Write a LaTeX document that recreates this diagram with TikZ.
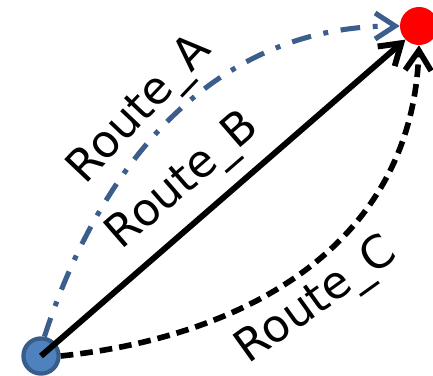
\documentclass[tikz,border=0pt]{standalone}
\usepackage{fontspec}
\setmainfont{DejaVu Sans}
\usetikzlibrary{arrows.meta}
\definecolor{routeblue}{RGB}{59,94,140}
\definecolor{stopblue}{RGB}{79,129,189}
\definecolor{stopedge}{RGB}{56,93,138}

\begin{document}
\begin{tikzpicture}[x=0.025cm, y=-0.025cm,
    every node/.style={font=\fontsize{32}{38}\selectfont, text=black, inner sep=2pt},
    stop/.style={circle, inner sep=0pt},
    route/.style={-{Straight Barb[length=5mm, width=6.5mm]}}
]
\useasboundingbox (0,0) rectangle (433,375);

\node[stop, minimum size=0.88cm, fill=stopblue, draw=stopedge, line width=3pt] (start) at (41,356) {};
\node[stop, minimum size=0.95cm, fill=red] (goal) at (419,26) {};

% three routes
\draw[route, routeblue, line width=3.6pt, dash pattern=on 14pt off 9pt on 3.5pt off 9pt]
    (start.80) to[out=72, in=180] node[pos=0.46, sloped, above=0pt] {Route\_A} (goal.west);
\draw[route, black, line width=4.2pt]
    (start.center) -- node[pos=0.46, sloped, above=7pt] {Route\_B} (goal.south west);
\draw[route, black, line width=4pt, dash pattern=on 9pt off 5pt]
    (start.east) to[out=6, in=-92, looseness=1.05] node[pos=0.47, sloped, below=4pt] {Route\_C} (goal.south);
\end{tikzpicture}
\end{document}
